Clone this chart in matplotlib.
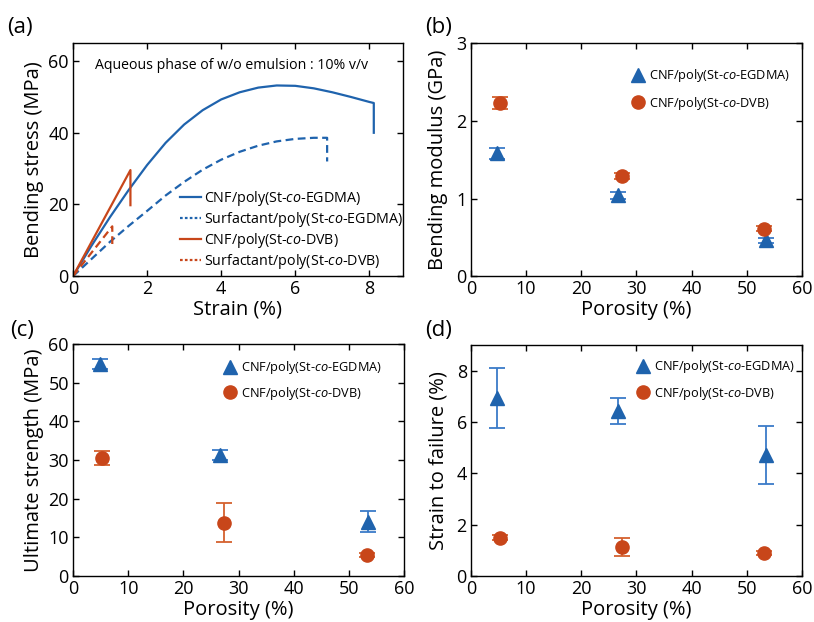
import numpy as np
import matplotlib
matplotlib.use("Agg")
from matplotlib import pyplot as plt
from matplotlib.lines import Line2D

plt.rcParams['font.family'] = ['Open Sans', 'DejaVu Sans']
plt.rcParams['mathtext.fontset'] = 'custom'
plt.rcParams['mathtext.rm'] = 'Open Sans'
plt.rcParams['mathtext.it'] = 'Open Sans:italic'

BLUE = '#1f63ad'
ORANGE = '#c8461a'

# (a) stress-strain curves
strain_cnf_egdma = [0, 0.5, 1.0, 1.5, 2.0, 2.5, 3.0, 3.5, 4.0, 4.5, 5.0, 5.5, 6.0, 6.5, 7.0, 7.5, 8.0, 8.12, 8.12]
stress_cnf_egdma = [0, 8.5, 16.5, 24.0, 31.0, 37.2, 42.3, 46.3, 49.3, 51.3, 52.6, 53.2, 53.1, 52.4, 51.3, 50.0, 48.6, 48.3, 40.0]
strain_sur_egdma = [0, 0.5, 1.0, 1.5, 2.0, 2.5, 3.0, 3.5, 4.0, 4.5, 5.0, 5.5, 6.0, 6.5, 6.86, 6.86]
stress_sur_egdma = [0, 4.8, 9.6, 14.0, 18.2, 22.5, 26.3, 29.7, 32.5, 34.7, 36.4, 37.6, 38.3, 38.6, 38.6, 32.0]
strain_cnf_dvb = [0, 1.55, 1.55]
stress_cnf_dvb = [0, 29.6, 19.8]
strain_sur_dvb = [0, 1.06, 1.06]
stress_sur_dvb = [0, 13.9, 8.0]

# (b)-(d) properties vs porosity
por_egdma = [4.8, 26.7, 53.5]
por_dvb = [5.2, 27.3, 53.2]
mod_egdma = [1.58, 1.04, 0.46]
mod_egdma_err = [0.07, 0.05, 0.03]
mod_dvb = [2.23, 1.29, 0.61]
mod_dvb_err = [0.08, 0.04, 0.03]
str_egdma = [54.8, 31.2, 14.0]
str_egdma_err = [1.4, 1.3, 2.7]
str_dvb = [30.6, 13.8, 5.4]
str_dvb_err = [1.8, 5.0, 0.6]
fail_egdma = [6.95, 6.43, 4.70]
fail_egdma_err = [1.18, 0.52, 1.13]
fail_dvb = [1.49, 1.13, 0.90]
fail_dvb_err = [0.10, 0.36, 0.07]

LBL_EG = 'CNF/poly(St-$\\mathit{co}$-EGDMA)'
LBL_DVB = 'CNF/poly(St-$\\mathit{co}$-DVB)'
FS_LABEL = 14.5
FS_TICK = 13


def style_axes(ax):
    ax.tick_params(direction='in', top=True, right=True, length=4, width=1, labelsize=FS_TICK, pad=3)
    for sp in ax.spines.values():
        sp.set_linewidth(1.0)


fig = plt.figure(figsize=(8.14, 6.22), dpi=100)
ax_a = fig.add_axes([0.0897, 0.556, 0.405, 0.3746])
ax_b = fig.add_axes([0.5786, 0.556, 0.4066, 0.3746])
ax_c = fig.add_axes([0.0897, 0.074, 0.407, 0.373])
ax_d = fig.add_axes([0.5786, 0.074, 0.4066, 0.371])

# (a)
dash = (0, (3.5, 2))
ax_a.plot(strain_cnf_egdma, stress_cnf_egdma, color=BLUE, lw=1.6, label=LBL_EG)
ax_a.plot(strain_sur_egdma, stress_sur_egdma, color=BLUE, lw=1.6, ls=dash,
          label='Surfactant/poly(St-$\\mathit{co}$-EGDMA)')
ax_a.plot(strain_cnf_dvb, stress_cnf_dvb, color=ORANGE, lw=1.6, label=LBL_DVB)
ax_a.plot(strain_sur_dvb, stress_sur_dvb, color=ORANGE, lw=1.6, ls=dash,
          label='Surfactant/poly(St-$\\mathit{co}$-DVB)')
ax_a.set_xlim(0, 8.9)
ax_a.set_ylim(0, 65)
ax_a.set_xticks([0, 2, 4, 6, 8])
ax_a.set_yticks([0, 20, 40, 60])
ax_a.set_xlabel('Strain (%)', fontsize=FS_LABEL, labelpad=1)
ax_a.set_ylabel('Bending stress (MPa)', fontsize=FS_LABEL, labelpad=3)
ax_a.text(0.068, 0.906, 'Aqueous phase of w/o emulsion : 10% v/v', transform=ax_a.transAxes,
          fontsize=10.2, va='center')
leg = ax_a.legend(loc='upper left', frameon=False, fontsize=10.3, handlelength=1.5,
                  handletextpad=0.2, labelspacing=0.12, borderpad=0, borderaxespad=0,
                  bbox_to_anchor=(0.324, 0.372))
for h in leg.get_lines()[1::2]:
    h.set_linestyle((0, (1.2, 1.0)))
style_axes(ax_a)


def prop_panel(ax, ye, ye_err, yd, yd_err, anchor, spacing):
    ax.errorbar(por_egdma, ye, yerr=ye_err, fmt='^', color=BLUE, ecolor='#3a7bc8', ms=9.5,
                capsize=6, elinewidth=1.3, capthick=1.3)
    ax.errorbar(por_dvb, yd, yerr=yd_err, fmt='o', color=ORANGE, ecolor='#d4612e', ms=9.5,
                capsize=6, elinewidth=1.3, capthick=1.3)
    ax.set_xlim(0, 60)
    ax.set_xticks([0, 10, 20, 30, 40, 50, 60])
    ax.set_xlabel('Porosity (%)', fontsize=FS_LABEL, labelpad=1)
    handles = [Line2D([], [], ls='none', marker='^', ms=9.5, color=BLUE),
               Line2D([], [], ls='none', marker='o', ms=9.5, color=ORANGE)]
    ax.legend(handles, [LBL_EG, LBL_DVB], loc='upper left', frameon=False, fontsize=9.2,
              handlelength=1.0, handletextpad=0.4, labelspacing=spacing, borderpad=0,
              borderaxespad=0, bbox_to_anchor=anchor)
    style_axes(ax)


# (b)
prop_panel(ax_b, mod_egdma, mod_egdma_err, mod_dvb, mod_dvb_err, (0.485, 0.897), 0.83)
ax_b.set_ylim(0, 3)
ax_b.set_yticks([0, 1, 2, 3])
ax_b.set_ylabel('Bending modulus (GPa)', fontsize=FS_LABEL, labelpad=6)

# (c)
prop_panel(ax_c, str_egdma, str_egdma_err, str_dvb, str_dvb_err, (0.454, 0.935), 0.67)
ax_c.set_ylim(0, 60)
ax_c.set_yticks([0, 10, 20, 30, 40, 50, 60])
ax_c.set_ylabel('Ultimate strength (MPa)', fontsize=FS_LABEL, labelpad=3)

# (d)
prop_panel(ax_d, fail_egdma, fail_egdma_err, fail_dvb, fail_dvb_err, (0.50, 0.944), 0.75)
ax_d.set_ylim(0, 9)
ax_d.set_yticks([0, 2, 4, 6, 8])
ax_d.set_ylabel('Strain to failure (%)', fontsize=FS_LABEL, labelpad=6)

for lbl, x, y in [('(a)', 0.009, 0.956), ('(b)', 0.522, 0.956), ('(c)', 0.012, 0.469), ('(d)', 0.522, 0.469)]:
    fig.text(x, y, lbl, fontsize=16, va='center')

fig.savefig('out.png', dpi=100)
